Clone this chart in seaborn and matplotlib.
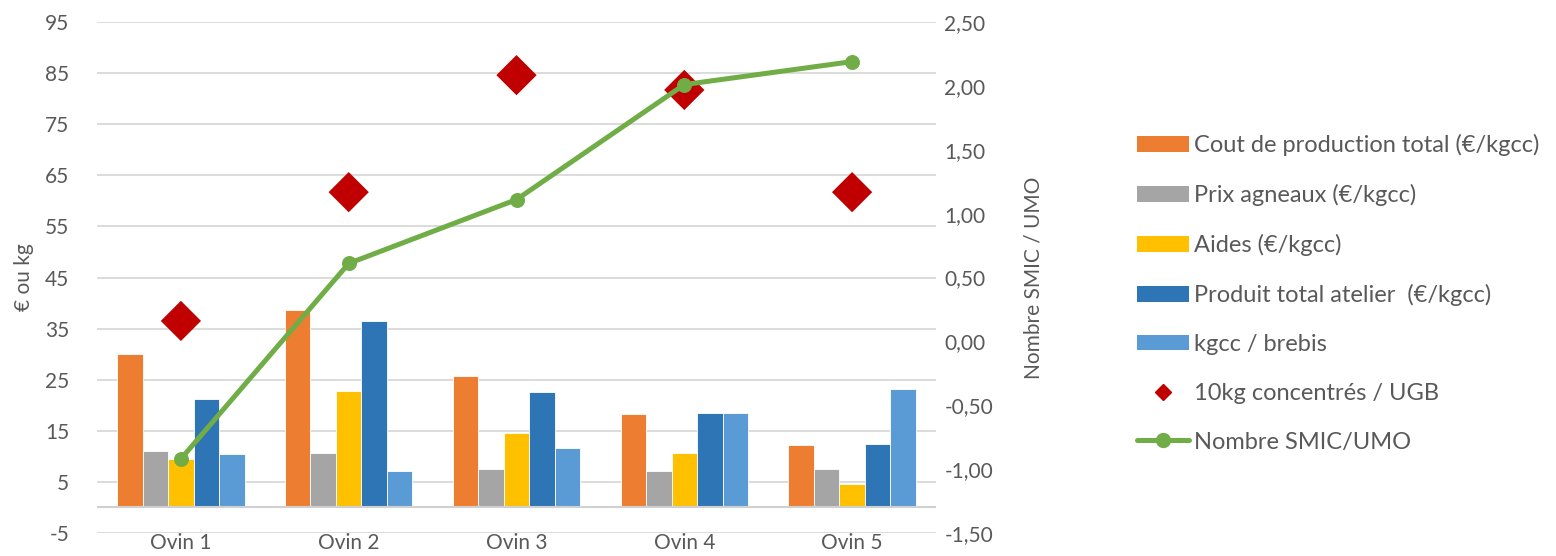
import numpy as np
import pandas as pd
import matplotlib
matplotlib.use("Agg")
import matplotlib.pyplot as plt
from matplotlib.ticker import FuncFormatter, MultipleLocator, FixedLocator
from matplotlib.patches import Patch
from matplotlib.lines import Line2D
import seaborn as sns

# Data
categories = ["Ovin 1", "Ovin 2", "Ovin 3", "Ovin 4", "Ovin 5"]
cout_production = [30.0, 38.6, 25.7, 18.3, 12.2]
prix_agneaux = [11.0, 10.6, 7.5, 7.2, 7.6]
aides = [9.5, 22.7, 14.5, 10.6, 4.6]
produit_total = [21.2, 36.5, 22.5, 18.4, 12.5]
kgcc_brebis = [10.5, 7.1, 11.6, 18.5, 23.2]
concentres = [36.5, 61.7, 84.6, 81.7, 61.7]
smic_umo = [-0.92, 0.61, 1.11, 2.01, 2.19]

bar_series = [
    "Cout de production total (€/kgcc)",
    "Prix agneaux (€/kgcc)",
    "Aides (€/kgcc)",
    "Produit total atelier  (€/kgcc)",
    "kgcc / brebis",
]
bar_colors = ["#ED7D31", "#A5A5A5", "#FFC000", "#2E75B6", "#5B9BD5"]
text_color = "#595959"

sns.set_style("white")
plt.rcParams["font.family"] = ["Lato", "DejaVu Sans"]
plt.rcParams["axes.unicode_minus"] = False

df = pd.DataFrame({
    "ovin": np.repeat(categories, len(bar_series)),
    "serie": bar_series * len(categories),
    "valeur": np.column_stack([cout_production, prix_agneaux, aides,
                               produit_total, kgcc_brebis]).ravel(),
})

fig = plt.figure(figsize=(15.56, 5.56), dpi=100)
ax = fig.add_axes([97 / 1556, 23 / 556, (936 - 97) / 1556, (533 - 22) / 556])

sns.barplot(data=df, x="ovin", y="valeur", hue="serie", order=categories,
            hue_order=bar_series, palette=bar_colors, width=0.76, gap=0,
            saturation=1, legend=False, ax=ax, edgecolor="white", linewidth=0.6)

x = np.arange(len(categories))
sns.scatterplot(x=x, y=concentres, marker="D", s=420, color="#C00000",
                edgecolor="none", ax=ax, zorder=4, legend=False)

ax.set_ylim(-5, 95)
ax.set_xlim(-0.5, len(categories) - 0.5)
ax.yaxis.set_major_locator(FixedLocator(np.arange(-5, 96, 10)))
ax.yaxis.set_major_formatter(FuncFormatter(lambda v, p: f"{v:.0f}"))
ax.grid(axis="y", color="#D9D9D9", linewidth=1.3)
ax.set_axisbelow(True)
ax.axhline(0, color="#D0D0D0", linewidth=1.5, zorder=1.5)
for s in ax.spines.values():
    s.set_visible(False)
ax.tick_params(axis="both", length=0, labelsize=15, colors=text_color)
ax.tick_params(axis="y", pad=20)
ax.tick_params(axis="x", pad=0)
ax.set_xlabel("")
ax.set_ylabel("€ ou kg", fontsize=15, color=text_color, labelpad=8)

ax2 = ax.twinx()
sns.lineplot(x=x, y=smic_umo, ax=ax2, color="#70AD47", linewidth=3.6,
             marker="o", markersize=10, markeredgecolor="#70AD47", zorder=5)
ax2.set_ylim(-1.5, 2.5)
ax2.yaxis.set_major_locator(MultipleLocator(0.5))
ax2.yaxis.set_major_formatter(FuncFormatter(lambda v, p: f"{v:.2f}".replace(".", ",")))
for s in ax2.spines.values():
    s.set_visible(False)
ax2.tick_params(axis="y", length=0, labelsize=15, colors=text_color, pad=6)
ax2.set_ylabel("Nombre SMIC / UMO", fontsize=15, color=text_color, labelpad=22)

handles = [Patch(facecolor=c, edgecolor="none") for c in bar_colors]
handles.append(Line2D([], [], linestyle="none", marker="D", markersize=8,
                      color="#C00000"))
handles.append(Line2D([], [], color="#70AD47", linewidth=3.6, marker="o",
                      markersize=10))
labels = bar_series + ["10kg concentrés / UGB", "Nombre SMIC/UMO"]
fig.legend(handles, labels, loc="upper left", bbox_to_anchor=(1137 / 1556, 1 - 134 / 556),
           frameon=False, fontsize=17, labelcolor=text_color, handlelength=2.2,
           handleheight=0.66, handletextpad=0.2, labelspacing=1.18,
           borderpad=0, borderaxespad=0)

fig.savefig("out.png", dpi=100)
